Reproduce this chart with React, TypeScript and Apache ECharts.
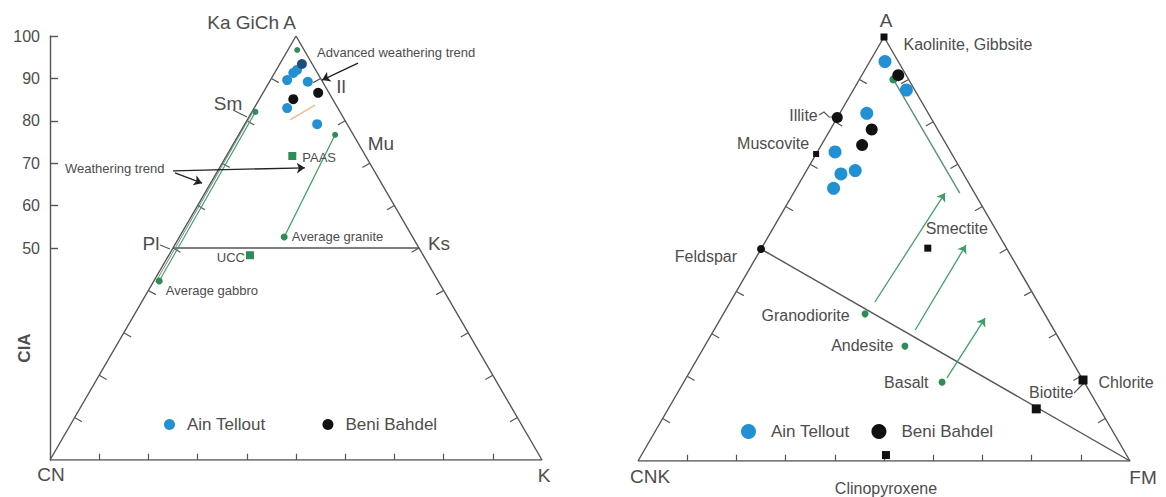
import React, { useEffect, useRef } from 'react';
import * as echarts from 'echarts';

// ---------- Left diagram: A–CN–K ternary (CIA). Values are [A, K] in %, CN = 100 − A − K
const ternaryTicks = [10, 20, 30, 40, 50, 60, 70, 80, 90];
const ciaAxisMin = 50;
const ciaAxisMax = 100;
const ainTelloutACNK = [[89.6, 3.4], [91.3, 3.8], [92.0, 4.2], [93.4, 4.5], [89.2, 7.8], [83.0, 6.7], [79.2, 14.7]];
const beniBahdelACNK = [[85.1, 6.9], [86.6, 11.2]];
const acnkRockNames = ['Average granite', 'Average gabbro'];
const acnkRockValues = [[52.6, 21.3], [42.2, 1.1]];
const acnkSedNames = ['PAAS', 'UCC'];
const acnkSedValues = [[71.7, 13.4], [48.3, 16.5]];
const acnkTrendEnds = [[82.1, 0.7], [76.7, 19.6], [96.7, 1.9]];
const plKsLine = [[50, 0], [50, 50]];
const gabbroTrend = [[42.2, 1.1], [82.1, 0.7]];
const gabbroTrendInner = [[42.0, 0.5], [81.8, 0.2]];
const graniteTrend = [[52.6, 21.3], [76.7, 19.6]];
const advancedTrendLine = [[80.2, 8.7], [83.7, 12.0]];
const acnkArrows = [
  [[93.6, 15.8], [89.6, 10.5]],
  [[68.2, -9.1], [68.9, 17.35]],
  [[67.7, -8.45], [65.3, -1.75]],
];

// ---------- Right diagram: A–CNK–FM ternary. Values are [A, FM] in %, CNK = 100 − A − FM
const ainTelloutAFM = [[94.2, 3.1], [87.5, 10.8], [82.0, 5.5], [72.9, 3.6], [67.7, 7.4], [68.5, 9.9], [64.3, 7.6]];
const beniBahdelAFM = [[91.0, 7.4], [78.2, 8.4], [74.5, 8.3]];
const mineralNames = ['Kaolinite, Gibbsite', 'Illite', 'Muscovite', 'Feldspar', 'Smectite', 'Chlorite', 'Biotite', 'Clinopyroxene'];
const mineralValues = [[100, 0], [81, 0], [72.4, 0], [50, 0], [50.2, 33.8], [19.1, 80.9], [12.3, 74.8], [1.4, 49.7]];
const igneousNames = ['Granodiorite', 'Andesite', 'Basalt'];
const igneousValues = [[34.7, 28.8], [27.1, 40.7], [18.6, 52.5]];
const feldsparFmLine = [[50, 0], [0, 100]];
const kaoliniteTrend = [[90, 6.9], [63.2, 33.8]];
const afmArrows = [
  [[37.5, 29.4], [63.2, 30.8]],
  [[30.9, 40.9], [50.9, 41.2]],
  [[19.6, 53.0], [33.7, 53.7]],
];
const afmTrendStart = [[90, 6.9]];

const triangleCorners = [[0, 0], [100, 0], [0, 100], [0, 0]];

const FONT = '"Liberation Sans", Arial, Helvetica, sans-serif';
const INK = '#555555';
const BLUE = '#2191d3';
const NAVY = '#1d4e7e';
const BLACK = '#111111';
const GREEN = '#2f8c58';
const GREEN_LINE = '#3f9f6c';

// ternary [A, third] -> cartesian [x, y] on a 0..100 square axis pair
const toXY = (p: number[]) => [p[1] + p[0] / 2, p[0]];

function tickSegments(values: number[], tEdge: number, tBase: number) {
  const segs: number[][][] = [];
  values.forEach((v) => {
    segs.push([toXY([0, v]), toXY([2 * tBase, v - tBase])]);
    segs.push([toXY([v, 0]), toXY([v - tEdge, 2 * tEdge])]);
    segs.push([toXY([v, 100 - v]), toXY([v - tEdge, 100 - v - tEdge])]);
  });
  return segs;
}

const mineralLabels: Record<string, any> = {
  'Kaolinite, Gibbsite': { position: 'right', distance: 16, offset: [0, 7] },
  Illite: { position: 'left', distance: 14, offset: [0, -2] },
  Muscovite: { position: 'left', distance: 4, offset: [0, -11] },
  Feldspar: { position: 'left', distance: 20, offset: [0, 7] },
  Smectite: { position: 'top', distance: 8, offset: [29, 0] },
  Chlorite: { position: 'right', distance: 11, offset: [0, 2] },
  Biotite: { position: 'top', distance: 4, offset: [15, 0] },
  Clinopyroxene: { position: 'bottom', distance: 21, offset: [0, 0] },
};
const mineralSymbols: Record<string, any> = {
  'Kaolinite, Gibbsite': ['rect', 7],
  Illite: ['circle', 11],
  Muscovite: ['rect', 6],
  Feldspar: ['circle', 8],
  Smectite: ['rect', 7],
  Chlorite: ['rect', 9],
  Biotite: ['rect', 9],
  Clinopyroxene: ['rect', 8],
};
const igneousLabels: Record<string, any> = {
  Granodiorite: { distance: 12, offset: [0, 2] },
  Andesite: { distance: 8, offset: [0, -1] },
  Basalt: { distance: 10, offset: [0, 0] },
};
const acnkLabels: Record<string, any> = {
  'Average granite': { position: 'right', distance: 4, offset: [0, 0] },
  'Average gabbro': { position: 'right', distance: 3, offset: [0, 9] },
  PAAS: { position: 'right', distance: 6, offset: [0, 2] },
  UCC: { position: 'left', distance: 1, offset: [0, 2] },
};

function buildOption() {
  const L = { xAxisIndex: 0, yAxisIndex: 0 };
  const R = { xAxisIndex: 2, yAxisIndex: 2 };
  const line = (ax: any, data: number[][], color: string, width: number, z = 2, type = 'solid') => ({
    type: 'line', ...ax, data: data.map(toXY), symbol: 'none', silent: true, z,
    lineStyle: { color, width, type },
  });
  const arrows = (ax: any, list: number[][][], color: string, width: number, size: number) => ({
    type: 'lines', coordinateSystem: 'cartesian2d', ...ax, silent: true, z: 3,
    symbol: ['none', 'arrow'], symbolSize: size,
    lineStyle: { color, width, opacity: 1 },
    data: list.map((s) => ({ coords: s.map(toXY) })),
  });
  const ticks = (ax: any) => ({
    type: 'lines', coordinateSystem: 'cartesian2d', ...ax, silent: true, z: 2,
    lineStyle: { color: INK, width: 1.2, opacity: 1 },
    data: tickSegments(ternaryTicks, 1.0, 0.75).map((s) => ({ coords: s })),
  });
  const labelStyle = (size: number) => ({ fontSize: size, color: '#4d4d4d', fontFamily: FONT });
  const solid = (color: string) => ({ color, opacity: 1 });

  const series: any[] = [
    // ---- left
    line(L, triangleCorners, INK, 1.4),
    ticks(L),
    line(L, plKsLine, INK, 1.4),
    line(L, gabbroTrendInner, '#7a8a80', 1),
    line(L, gabbroTrend, GREEN_LINE, 1.1),
    line(L, graniteTrend, GREEN_LINE, 1.3),
    line(L, advancedTrendLine, '#f2b98f', 1.4),
    arrows(L, acnkArrows, '#222', 1.3, 8),
    {
      type: 'scatter', ...L, name: 'Green trend ends', silent: true, z: 4,
      symbol: 'circle', symbolSize: 6, itemStyle: solid(GREEN),
      data: acnkTrendEnds.map(toXY),
    },
    {
      type: 'scatter', ...L, name: 'Reference rocks', silent: true, z: 4,
      symbol: 'circle', symbolSize: 7, itemStyle: solid(GREEN),
      data: acnkRockNames.map((n, i) => ({
        name: n, value: toXY(acnkRockValues[i]),
        label: { show: true, formatter: n, ...labelStyle(13), ...acnkLabels[n] },
      })),
    },
    {
      type: 'scatter', ...L, name: 'Reference sediments', silent: true, z: 4,
      symbol: 'rect', symbolSize: 8, itemStyle: solid(GREEN),
      data: acnkSedNames.map((n, i) => ({
        name: n, value: toXY(acnkSedValues[i]),
        label: { show: true, formatter: n, ...labelStyle(13), ...acnkLabels[n] },
      })),
    },
    {
      type: 'scatter', ...L, name: 'Ain Tellout', z: 5, symbol: 'circle', symbolSize: 10,
      itemStyle: solid(BLUE),
      data: ainTelloutACNK.map((p, i) => (i === 3 ? { value: toXY(p), itemStyle: solid(NAVY) } : toXY(p))),
    },
    {
      type: 'scatter', ...L, name: 'Beni Bahdel', z: 5, symbol: 'circle', symbolSize: 10,
      itemStyle: solid(BLACK),
      data: beniBahdelACNK.map(toXY),
    },
    // ---- right
    line(R, triangleCorners, INK, 1.4),
    ticks(R),
    line(R, feldsparFmLine, INK, 1.4),
    line(R, kaoliniteTrend, '#5f8f7a', 1.4),
    arrows(R, afmArrows, GREEN_LINE, 1.3, 8),
    {
      type: 'scatter', ...R, name: 'Trend start', silent: true, z: 4,
      symbol: 'circle', symbolSize: 8, itemStyle: solid(GREEN),
      data: afmTrendStart.map(toXY),
    },
    {
      type: 'scatter', ...R, name: 'Igneous rocks', silent: true, z: 4,
      symbol: 'circle', symbolSize: 7, itemStyle: solid(GREEN),
      data: igneousNames.map((n, i) => ({
        name: n, value: toXY(igneousValues[i]),
        label: { show: true, formatter: n, position: 'left', ...labelStyle(16), ...igneousLabels[n] },
      })),
    },
    {
      type: 'scatter', ...R, name: 'Minerals', silent: true, z: 4,
      itemStyle: solid(BLACK),
      data: mineralNames.map((n, i) => ({
        name: n, value: toXY(mineralValues[i]),
        symbol: mineralSymbols[n][0], symbolSize: mineralSymbols[n][1],
        label: { show: true, formatter: n, ...labelStyle(16), ...mineralLabels[n] },
      })),
    },
    {
      type: 'scatter', ...R, name: 'Ain Tellout', z: 6, symbol: 'circle', symbolSize: 13,
      itemStyle: solid(BLUE),
      data: ainTelloutAFM.map(toXY),
    },
    {
      type: 'scatter', ...R, name: 'Beni Bahdel', z: 5, symbol: 'circle', symbolSize: 12,
      itemStyle: solid(BLACK),
      data: beniBahdelAFM.map(toXY),
    },
  ];

  const hiddenAxis = (gridIndex: number) => ({
    type: 'value', gridIndex, min: 0, max: 100, show: false,
  });

  const txt = (text: string, x: number, y: number, size: number, align = 'center', extra: any = {}) => ({
    type: 'text', x, y, silent: true, rotation: extra.rotation || 0,
    style: { text, fill: '#4d4d4d', font: `${extra.bold ? 'bold ' : ''}${size}px ${FONT}`, align, verticalAlign: 'middle' },
  });
  const seg = (x1: number, y1: number, x2: number, y2: number) => ({
    type: 'line', silent: true, shape: { x1, y1, x2, y2 }, style: { stroke: INK, lineWidth: 1.1 },
  });

  return {
    animation: false,
    backgroundColor: '#ffffff',
    textStyle: { fontFamily: FONT },
    grid: [
      { left: 50, top: 36, width: 492, height: 424 },
      { left: 50, top: 36, width: 10, height: 212 },
      { left: 638, top: 37, width: 492, height: 424 },
    ],
    xAxis: [hiddenAxis(0), hiddenAxis(1), hiddenAxis(2)],
    yAxis: [
      {
        type: 'value', gridIndex: 0, min: 0, max: 100,
        axisLine: { show: true, lineStyle: { color: INK, width: 1.4 } },
        axisTick: { show: false }, axisLabel: { show: false }, splitLine: { show: false },
      },
      {
        type: 'value', gridIndex: 1, min: ciaAxisMin, max: ciaAxisMax, interval: 10,
        axisLine: { show: false },
        axisTick: { show: true, inside: true, length: 8, lineStyle: { color: INK, width: 1.4 } },
        axisLabel: { show: true, fontSize: 16, color: '#4d4d4d', margin: 10, fontFamily: FONT, showMinLabel: true, showMaxLabel: true },
        splitLine: { show: false },
      },
      hiddenAxis(2),
    ],
    legend: [
      {
        data: ['Ain Tellout', 'Beni Bahdel'], left: 164, top: 416, padding: 0,
        icon: 'circle', itemWidth: 11, itemHeight: 11, itemGap: 57, selectedMode: false,
        textStyle: { fontSize: 17, color: '#4d4d4d', fontFamily: FONT, padding: [0, 0, 0, 7] },
      },
      {
        data: ['Ain Tellout', 'Beni Bahdel'], left: 741, top: 423, padding: 0,
        icon: 'circle', itemWidth: 15, itemHeight: 15, itemGap: 22, selectedMode: false,
        textStyle: { fontSize: 17, color: '#4d4d4d', fontFamily: FONT, padding: [0, 0, 0, 10] },
      },
    ],
    graphic: [
      txt('Ka GiCh A', 296, 22, 19, 'right'),
      txt('Sm', 228, 103, 19),
      txt('Il', 341, 86, 19),
      txt('Mu', 381, 143, 19),
      txt('Ks', 439, 243, 19),
      txt('Pl', 151, 243, 19),
      txt('CN', 51, 474, 19),
      txt('K', 544, 475, 19),
      txt('CIA', 24, 348, 17, 'center', { rotation: Math.PI / 2, bold: true }),
      txt('Advanced weathering trend', 317, 52, 13, 'left'),
      txt('Weathering trend', 65, 168, 13, 'left'),
      txt('A', 886, 20, 19),
      txt('CNK', 650, 476, 19),
      txt('FM', 1143, 477, 19),
      seg(233, 110, 247, 117),
      seg(160, 245, 170, 249),
      seg(1074, 393, 1084, 383),
      {
        type: 'polyline', silent: true,
        shape: { points: [[819, 115], [824, 112], [829, 117], [834, 117]] },
        style: { stroke: INK, lineWidth: 1.1, fill: 'none' },
      },
    ],
    series,
  };
}

export default function App() {
  const ref = useRef<HTMLDivElement>(null);
  useEffect(() => {
    if (!ref.current) return;
    const chart = echarts.init(ref.current, undefined, { renderer: 'svg' });
    chart.setOption(buildOption() as any);
    return () => chart.dispose();
  }, []);
  return (
    <div
      ref={ref}
      style={{ position: 'fixed', left: 0, top: 0, width: 1166, height: 497, background: '#fff' }}
    />
  );
}
